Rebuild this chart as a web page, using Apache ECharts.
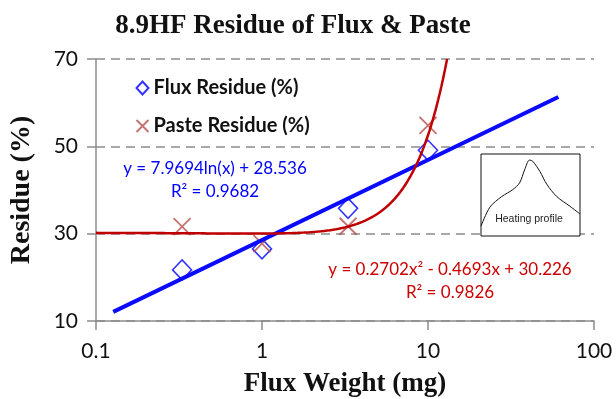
<!DOCTYPE html>
<html>
<head>
<meta charset="utf-8">
<script src="https://cdn.jsdelivr.net/npm/echarts@6/dist/echarts.min.js"></script>
<style>
  html, body { margin: 0; padding: 0; background: #fff; }
  #chart { width: 616px; height: 399px; }
</style>
</head>
<body>
<div id="chart"></div>
<script>
// Measured residues
const fluxWeight = [0.33, 1, 3.3, 10];
const fluxResidue = [21.7, 26.5, 35.8, 49.1];
const pasteWeight = [0.33, 1, 3.3, 10];
const pasteResidue = [31.6, 27.7, 31.7, 54.8];

// Trendline fits (log fit for flux, polynomial fit for paste)
const fluxFit = { a: 7.9694, b: 28.536, r2: 0.9682 };
const fluxFitRange = [0.127, 61];
const pasteFit = { c2: 0.2702, c1: 0.4693, c0: 30.226, r2: 0.9826 };
const pasteFitRange = [0.1, 13.03];

// Axis ticks
const xTicks = [0.1, 1, 10, 100];
const yTicks = [10, 30, 50, 70];

// Heating profile pictogram (time, temperature), arbitrary units
const profileT = [0, 9, 21, 32, 39, 44, 49, 52.5, 59.5, 66.5, 76.5, 90, 100];
const profileV = [5, 30, 44, 53, 62, 79, 92, 90, 77, 60, 44, 31, 21];

const logFitLine = [fluxFitRange[0], fluxFitRange[1]].map(x => [x, fluxFit.a * Math.log(x) + fluxFit.b]);

const polyFitLine = [];
{
  const n = 240;
  const l0 = Math.log10(pasteFitRange[0]), l1 = Math.log10(pasteFitRange[1]);
  for (let i = 0; i <= n; i++) {
    const x = Math.pow(10, l0 + (l1 - l0) * i / n);
    polyFitLine.push([x, pasteFit.c2 * x * x - pasteFit.c1 * x + pasteFit.c0]);
  }
}

const sans = 'Lato, "Open Sans", sans-serif';
const serif = '"Liberation Serif", "DejaVu Serif", serif';
const crossPath = 'path://M0,0L10,10M10,0L0,10';

const chart = echarts.init(document.getElementById('chart'));
chart.setOption({
  animation: false,
  title: {
    text: '8.9HF Residue of Flux & Paste',
    left: 288, top: 8, textAlign: 'center',
    textStyle: { fontFamily: serif, fontWeight: 'bold', fontSize: 27, color: '#111' }
  },
  legend: {
    orient: 'vertical', left: 129, top: 73, itemGap: 18,
    itemWidth: 12, itemHeight: 13,
    data: ['Flux Residue (%)', 'Paste Residue (%)'],
    textStyle: { fontFamily: sans, fontWeight: 'bold', fontSize: 20, color: '#111' }
  },
  grid: [
    { left: 96, right: 22, top: 59, bottom: 78, outerBoundsMode: 'none', containLabel: false },
    { left: 481, top: 154, width: 99, height: 82, outerBoundsMode: 'none', show: true, borderColor: '#111', borderWidth: 1, backgroundColor: '#fff', z: 5 }
  ],
  xAxis: [{
    gridIndex: 0, type: 'log', logBase: 10, min: 0.1, max: 100,
    name: 'Flux Weight (mg)', nameLocation: 'middle', nameGap: 50,
    nameTextStyle: { fontFamily: serif, fontWeight: 'bold', fontSize: 27, color: '#111' },
    axisLine: { lineStyle: { color: '#8c8c8c', width: 1.5 } },
    axisTick: { show: true, length: 9, lineStyle: { color: '#8c8c8c', width: 1.5 } },
    axisLabel: { margin: 20, fontFamily: sans, fontSize: 21, color: '#111',
      formatter: v => { const t = xTicks.find(k => Math.abs(k - v) / k < 1e-6); return t === undefined ? '' : String(t); } },
    splitLine: { show: false }, minorTick: { show: false }
  }, {
    gridIndex: 1, type: 'value', min: 0, max: 100, show: false
  }],
  yAxis: [{
    gridIndex: 0, type: 'value', min: yTicks[0], max: yTicks[yTicks.length - 1], interval: 20,
    name: 'Residue (%)', nameLocation: 'middle', nameGap: 60, nameRotate: 90,
    nameTextStyle: { fontFamily: serif, fontWeight: 'bold', fontSize: 28, color: '#111' },
    axisLine: { show: true, lineStyle: { color: '#8c8c8c', width: 1.5 } },
    axisTick: { show: true, length: 9, lineStyle: { color: '#8c8c8c', width: 1.5 } },
    axisLabel: { margin: 18, fontFamily: sans, fontSize: 21, color: '#111' },
    splitLine: { show: true, lineStyle: { color: '#8c8c8c', width: 1.5, type: [9, 6] } }
  }, {
    gridIndex: 1, type: 'value', min: -8, max: 100, show: false
  }],
  graphic: [
    { type: 'text', x: 215, y: 169, z: 20,
      style: { text: 'y = ' + fluxFit.a.toFixed(4) + 'ln(x) + ' + fluxFit.b.toFixed(3), fill: '#0000ff',
        font: '17px ' + sans, align: 'center', verticalAlign: 'middle' } },
    { type: 'text', x: 215, y: 192, z: 20,
      style: { text: 'R² = ' + fluxFit.r2.toFixed(4), fill: '#0000ff',
        font: '17px ' + sans, align: 'center', verticalAlign: 'middle' } },
    { type: 'text', x: 450, y: 270, z: 20,
      style: { text: 'y = ' + pasteFit.c2.toFixed(4) + 'x² - ' + pasteFit.c1.toFixed(4) + 'x + ' + pasteFit.c0.toFixed(3), fill: '#cc0000',
        font: '17px ' + sans, align: 'center', verticalAlign: 'middle' } },
    { type: 'text', x: 450, y: 293, z: 20,
      style: { text: 'R² = ' + pasteFit.r2.toFixed(4), fill: '#cc0000',
        font: '17px ' + sans, align: 'center', verticalAlign: 'middle' } },
    { type: 'text', x: 529, y: 219, z: 20,
      style: { text: 'Heating profile', fill: '#222',
        font: '10.5px "Liberation Sans", Arial, sans-serif', align: 'center', verticalAlign: 'middle' } }
  ],
  series: [
    {
      name: 'Flux Residue (%)', type: 'scatter', xAxisIndex: 0, yAxisIndex: 0,
      data: fluxWeight.map((x, i) => [x, fluxResidue[i]]),
      symbol: 'diamond', symbolSize: [19, 20], z: 3,
      itemStyle: { color: '#fff', borderColor: '#0000ff', borderWidth: 1.6 }
    },
    {
      name: 'Paste Residue (%)', type: 'scatter', xAxisIndex: 0, yAxisIndex: 0,
      data: pasteWeight.map((x, i) => [x, pasteResidue[i]]),
      symbol: crossPath, symbolSize: 17, z: 3,
      itemStyle: { color: 'none', borderColor: '#b5504c', borderWidth: 1.8 }
    },
    {
      name: 'flux-fit', type: 'line', xAxisIndex: 0, yAxisIndex: 0,
      data: logFitLine, showSymbol: false, symbol: 'none', z: 4,
      lineStyle: { color: '#0a0aff', width: 4 }
    },
    {
      name: 'paste-fit', type: 'line', xAxisIndex: 0, yAxisIndex: 0,
      data: polyFitLine, showSymbol: false, symbol: 'none', z: 4, clip: true,
      lineStyle: { color: '#c00000', width: 2.5 }
    },
    {
      name: 'profile', type: 'line', xAxisIndex: 1, yAxisIndex: 1,
      data: profileT.map((t, i) => [t, profileV[i]]),
      smooth: 0.3, showSymbol: false, symbol: 'none', z: 10,
      lineStyle: { color: '#111', width: 1 }
    }
  ]
});
</script>
</body>
</html>
